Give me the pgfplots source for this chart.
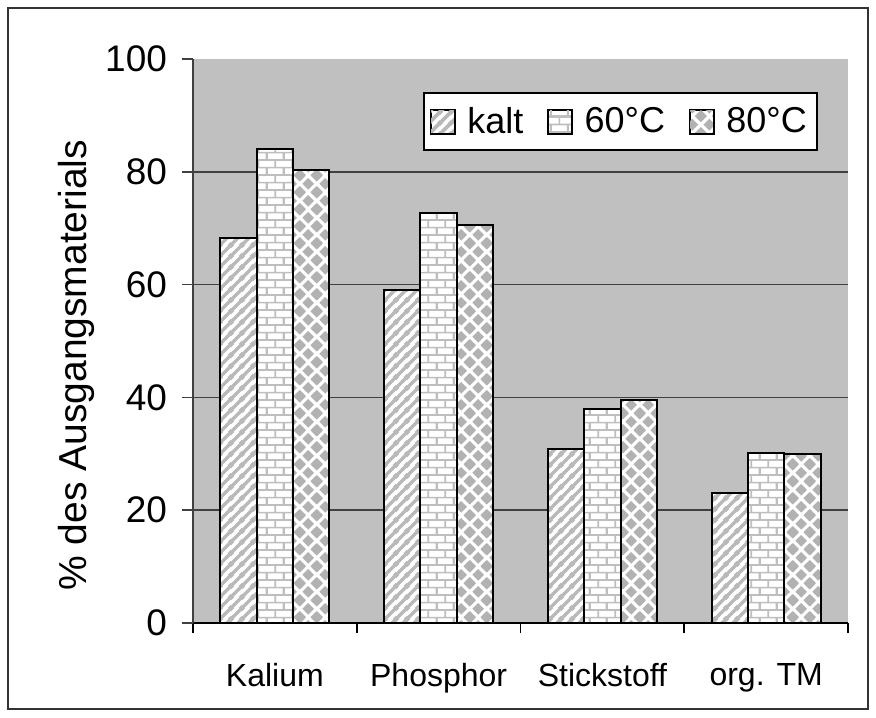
\documentclass[border=0pt]{standalone}
\usepackage{fontspec}
\setmainfont{Liberation Sans}
\usepackage{pgfplots}
\pgfplotsset{compat=1.18}
\usetikzlibrary{patterns}

\definecolor{plotgray}{RGB}{192,192,192}
\definecolor{gridc}{RGB}{64,64,64}
\definecolor{stripec}{RGB}{185,185,185}
\definecolor{brickc}{RGB}{190,190,190}
\definecolor{diamc}{RGB}{178,178,178}

% diagonal stripes
\pgfdeclarepatternformonly{xstripes}{\pgfqpoint{0pt}{0pt}}{\pgfqpoint{5.5pt}{5.5pt}}{\pgfqpoint{5.5pt}{5.5pt}}{%
  \pgfsetlinewidth{1.9pt}%
  \pgfpathmoveto{\pgfqpoint{-1pt}{-1pt}}\pgfpathlineto{\pgfqpoint{6.5pt}{6.5pt}}%
  \pgfpathmoveto{\pgfqpoint{-1pt}{4.5pt}}\pgfpathlineto{\pgfqpoint{1pt}{6.5pt}}%
  \pgfpathmoveto{\pgfqpoint{4.5pt}{-1pt}}\pgfpathlineto{\pgfqpoint{6.5pt}{1pt}}%
  \pgfusepath{stroke}}

% bricks
\pgfdeclarepatternformonly{xbricks}{\pgfqpoint{0pt}{0pt}}{\pgfqpoint{8.35pt}{7.7pt}}{\pgfqpoint{8.35pt}{7.7pt}}{%
  \pgfsetlinewidth{0.85pt}%
  \pgfpathmoveto{\pgfqpoint{-1pt}{0pt}}\pgfpathlineto{\pgfqpoint{9.35pt}{0pt}}%
  \pgfpathmoveto{\pgfqpoint{-1pt}{3.85pt}}\pgfpathlineto{\pgfqpoint{9.35pt}{3.85pt}}%
  \pgfpathmoveto{\pgfqpoint{-1pt}{7.7pt}}\pgfpathlineto{\pgfqpoint{9.35pt}{7.7pt}}%
  \pgfpathmoveto{\pgfqpoint{0pt}{0pt}}\pgfpathlineto{\pgfqpoint{0pt}{3.85pt}}%
  \pgfpathmoveto{\pgfqpoint{8.35pt}{0pt}}\pgfpathlineto{\pgfqpoint{8.35pt}{3.85pt}}%
  \pgfpathmoveto{\pgfqpoint{4.175pt}{3.85pt}}\pgfpathlineto{\pgfqpoint{4.175pt}{7.7pt}}%
  \pgfusepath{stroke}}

% diamonds (rotated checkerboard)
\pgfdeclarepatternformonly{xdiamonds}{\pgfqpoint{0pt}{0pt}}{\pgfqpoint{8.35pt}{8.35pt}}{\pgfqpoint{8.35pt}{8.35pt}}{%
  \foreach \cx/\cy in {4.175/4.175,0/0,8.35/0,0/8.35,8.35/8.35}{%
    \pgfpathmoveto{\pgfpoint{\cx pt-2.95pt}{\cy pt}}%
    \pgfpathlineto{\pgfpoint{\cx pt}{\cy pt+2.95pt}}%
    \pgfpathlineto{\pgfpoint{\cx pt+2.95pt}{\cy pt}}%
    \pgfpathlineto{\pgfpoint{\cx pt}{\cy pt-2.95pt}}%
    \pgfpathclose}%
  \pgfusepath{fill}}

\begin{document}
\begin{tikzpicture}
\useasboundingbox (-96.5pt,-47pt) rectangle (341.5pt,311.5pt);
\draw[line width=0.8pt, color=black!80] (-92.5pt,-43pt) rectangle (337.5pt,307.5pt);
\begin{axis}[
  at={(0pt,0pt)}, anchor=south west,
  scale only axis, width=327.5pt, height=282pt,
  xmin=-0.5, xmax=3.5, ymin=0, ymax=100,
  axis background/.style={fill=plotgray},
  axis x line*=bottom, axis y line*=left,
  x axis line style={draw=black, line width=1pt},
  y axis line style={draw=gridc, line width=1pt},
  tick align=outside,
  ytick={0,20,40,60,80,100},
  major tick length=5.5pt,
  ytick style={draw=gridc, line width=0.8pt},
  extra y ticks={20,40,60,80},
  extra y tick labels={},
  extra y tick style={grid=major, major tick length=0pt},
  grid style={draw=gridc, line width=0.8pt},
  xtick={0,1,2,3},
  xticklabels={Kalium,Phosphor,Stickstoff,org. TM},
  major x tick style={draw=none},
  minor xtick={-0.5,0.5,1.5,2.5,3.5},
  minor tick length=5pt,
  minor x tick style={draw=black, line width=0.8pt},
  /pgf/number format/assume math mode=true,
  yticklabel style={font=\fontsize{18.5pt}{22pt}\selectfont, xshift=-4pt},
  xticklabel style={font=\fontsize{16pt}{19pt}\selectfont, yshift=-11pt},
  ylabel={\% des Ausgangsmaterials},
  ylabel style={font=\fontsize{19.5pt}{23pt}\selectfont, at={(axis description cs:-0.178,0.457)}, anchor=center},
  ybar=0pt, bar width=18.15pt,
  legend columns=3,
  legend style={at={(axis description cs:0.6527,0.889)}, anchor=center,
    draw=black, line width=0.8pt, fill=white,
    font=\fontsize{18pt}{21pt}\selectfont,
    inner xsep=3pt, inner ysep=5pt,
    /tikz/every odd column/.append style={column sep=4pt},
    /tikz/every even column/.append style={column sep=10pt}},
  legend image code/.code={\draw[#1, line width=0.6pt] (0pt,-6pt) rectangle (12pt,6pt);},
]
\addplot[draw=black, line width=1pt, preaction={fill=white}, pattern=xstripes, pattern color=stripec]
  coordinates {(0,68.3) (1,59.1) (2,30.8) (3,23.0)};
\addplot[draw=black, line width=1pt, preaction={fill=white}, pattern=xbricks, pattern color=brickc]
  coordinates {(0,84.0) (1,72.7) (2,37.9) (3,30.1)};
\addplot[draw=black, line width=1pt, preaction={fill=white}, pattern=xdiamonds, pattern color=diamc]
  coordinates {(0,80.4) (1,70.6) (2,39.6) (3,30.0)};
\legend{kalt,60°C,80°C}
\end{axis}
\end{tikzpicture}
\end{document}
